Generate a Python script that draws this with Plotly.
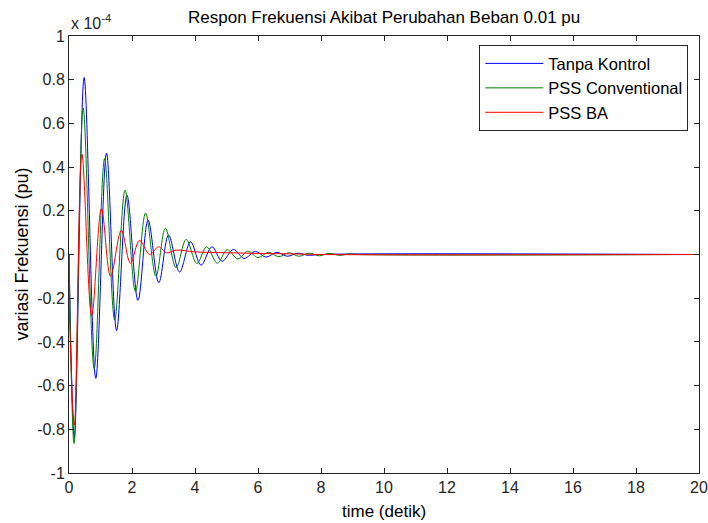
import plotly.graph_objects as go

# values in units of 1e-4 pu (axis shows "x 10^-4")
t_tanpa = [0, 0.17, 0.48, 0.85, 1.19, 1.51, 1.84, 2.19, 2.51, 2.85, 3.16, 3.51, 3.86, 4.19,
           4.54, 4.86, 5.22, 5.56, 5.92, 6.25, 6.6, 6.93, 7.27, 7.6, 7.95, 20]
v_tanpa = [0, -0.84, 0.81, -0.567, 0.464, -0.348, 0.272, -0.21, 0.158, -0.129, 0.089, -0.08,
           0.058, -0.049, 0.035, -0.031, 0.023, -0.018, 0.014, -0.012, 0.01, -0.008, 0.006,
           -0.004, 0.0, 0]

t_conv = [0, 0.16, 0.45, 0.80, 1.13, 1.45, 1.78, 2.11, 2.43, 2.76, 3.06, 3.40, 3.72, 4.06,
          4.37, 4.71, 5.02, 5.36, 5.68, 6.0, 6.33, 6.66, 6.98, 7.3, 7.62, 7.95, 8.27, 8.6,
          8.9, 9.2, 20]
v_conv = [0, -0.865, 0.67, -0.524, 0.44, -0.30, 0.295, -0.17, 0.19, -0.10, 0.12, -0.06,
          0.069, -0.041, 0.035, -0.04, 0.022, -0.02, 0.015, -0.014, 0.01, -0.01, 0.008,
          -0.008, 0.006, -0.006, 0.005, -0.004, 0.003, 0, 0]

t_ba = [0, 0.02, 0.17, 0.41, 0.72, 1.03, 1.32, 1.66, 1.95, 2.24, 2.56, 2.84, 3.1, 3.4,
        4.0, 5.0, 6.0, 7.0, 8.0, 20]
v_ba = [0, -0.3, -0.78, 0.46, -0.28, 0.21, -0.10, 0.11, -0.04, 0.065, 0.0, 0.035, 0.008,
        0.02, 0.012, 0.008, 0.005, 0.003, 0.0, 0]

names = ["Tanpa Kontrol", "PSS Conventional", "PSS BA"]
colors = ["#0000ff", "#008000", "#ff0000"]

x_ticks = list(range(0, 21, 2))
y_ticks = [-1, -0.8, -0.6, -0.4, -0.2, 0, 0.2, 0.4, 0.6, 0.8, 1]
y_labels = ["-1", "-0.8", "-0.6", "-0.4", "-0.2", "0", "0.2", "0.4", "0.6", "0.8", "1"]

FONT = "Liberation Sans, Arial, sans-serif"

fig = go.Figure()
for t, v, n, c in zip([t_tanpa, t_conv, t_ba], [v_tanpa, v_conv, v_ba], names, colors):
    fig.add_trace(go.Scatter(x=t, y=v, mode="lines", name=n,
                             line=dict(color=c, width=1, shape="spline", smoothing=1.0)))

axis_common = dict(showline=True, linecolor="#262626", linewidth=1, mirror="ticks",
                   ticks="inside", ticklen=5, tickcolor="#262626", showgrid=False,
                   zeroline=False, ticklabeloverflow="allow", automargin=False,
                   tickfont=dict(family=FONT, size=16, color="#262626"))

fig.update_layout(
    width=708, height=523,
    margin=dict(l=69, r=9, t=36, b=50, autoexpand=False),
    paper_bgcolor="white", plot_bgcolor="white",
    showlegend=True,
    legend=dict(x=0.983, y=0.979, xanchor="right", yanchor="top",
                bgcolor="white", bordercolor="#262626", borderwidth=1,
                font=dict(family=FONT, size=16.5, color="#000000"),
                itemwidth=58, tracegroupgap=0),
    xaxis=dict(range=[0, 20], tickvals=x_ticks, **axis_common),
    yaxis=dict(range=[-1, 1], tickvals=y_ticks, ticktext=y_labels, **axis_common),
    annotations=[
        dict(text="Respon Frekuensi Akibat Perubahan Beban 0.01 pu", xref="paper", yref="paper",
             x=0.5, y=1, yshift=7, xanchor="center", yanchor="bottom", showarrow=False,
             font=dict(family=FONT, size=17, color="#000000")),
        dict(text="x 10<sup>-4</sup>", xref="paper", yref="paper", x=0, y=1, yshift=2,
             xanchor="left", yanchor="bottom", showarrow=False,
             font=dict(family=FONT, size=16, color="#262626")),
        dict(text="time (detik)", xref="paper", yref="paper", x=0.5, y=0, yshift=-27,
             xanchor="center", yanchor="top", showarrow=False,
             font=dict(family=FONT, size=17, color="#000000")),
        dict(text="variasi Frekuensi (pu)", xref="paper", yref="paper", x=0, xshift=-60,
             y=0.5, textangle=-90, xanchor="left", yanchor="middle", showarrow=False,
             font=dict(family=FONT, size=18, color="#000000")),
    ],
)

fig.write_html("out.html")
